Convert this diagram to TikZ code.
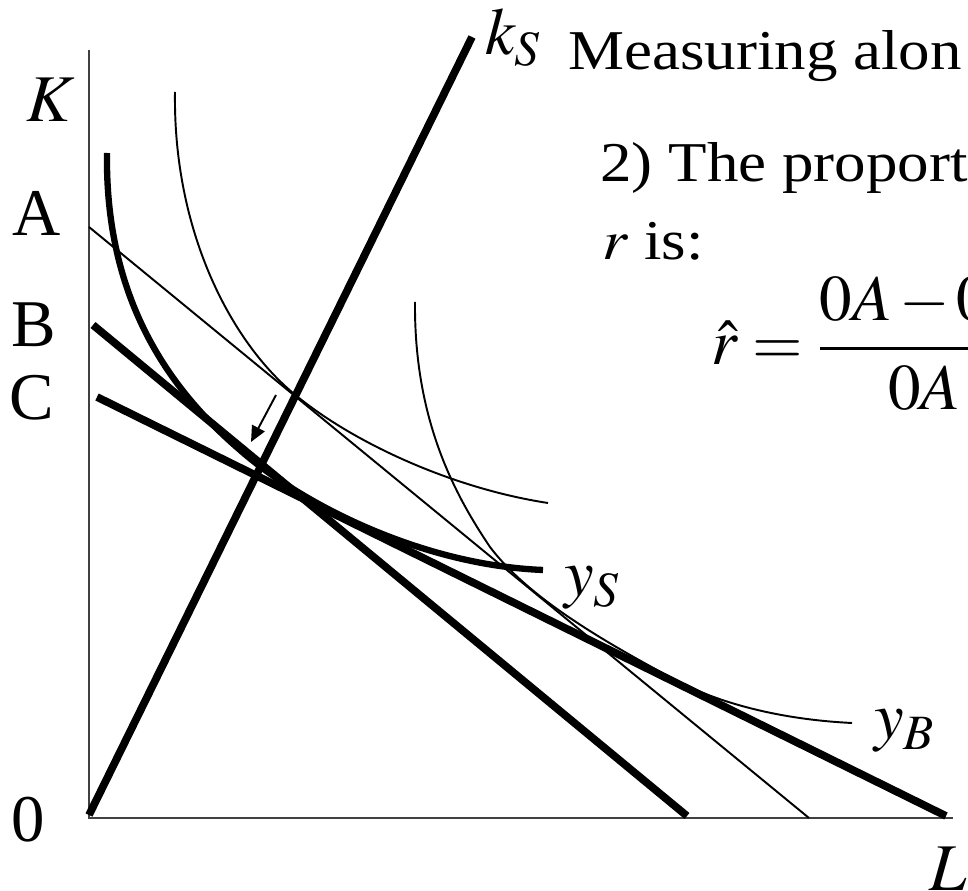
\documentclass[tikz,border=0pt]{standalone}
\usepackage{mathptmx}
\usepackage{fontspec}
\setmainfont{Liberation Serif}
\usetikzlibrary{arrows.meta, positioning}

\newcommand{\wide}[1]{\scalebox{1.12}[1]{#1}}

\tikzset{
  thickline/.style={line width=4.4pt},
  isothick/.style={line width=3.6pt},
  thinline/.style={line width=1.1pt},
  axisline/.style={line width=0.8pt, black!75},
  lbl/.style={font=\fontsize{38}{42}\selectfont, inner sep=0pt},
  txt/.style={font=\fontsize{32}{38}\selectfont, inner sep=0pt, anchor=base west},
}

\begin{document}
\begin{tikzpicture}[x=0.02cm,y=-0.02cm]
  \useasboundingbox (0,0) rectangle (968,891);
  \clip (0,0) rectangle (968,891);
  % axes
  \coordinate (O) at (89,818);
  \coordinate (Ktop) at (89,50);
  \coordinate (Lend) at (953,818);
  \draw[axisline] (Ktop) -- (O) -- (Lend);
  \node[lbl] (klab) at (51,100) {$K$};
  \node[lbl] (zero) at (28,820) {0};
  \node[lbl, anchor=base west] (llab) at (929,891) {$L$};
  % intercepts on the K axis
  \foreach \name/\x/\y in {A/37/213, B/34/325, C/32/398}
    \node[lbl] (lab\name) at (\x,\y) {\name};
  % isocost lines
  \coordinate (A0) at (89,227);  \coordinate (A1) at (809,818);
  \coordinate (B0) at (93,325);  \coordinate (B1) at (687,816);
  \coordinate (C0) at (97,397);  \coordinate (C1) at (946,816);
  \draw[thinline] (A0) -- (A1);
  \draw[thickline] (B0) -- (B1);
  \draw[thickline] (C0) -- (C1);
  % the k_S ray
  \coordinate (R0) at (89,815); \coordinate (R1) at (472,37);
  \draw[thickline] (R0) -- (R1);
  \node[lbl, anchor=base west] (kS) at (485,55) {$k_S$};
  % isoquants
  \draw[isothick] (107,153) .. controls (105,300) and (170,390) .. (240,450)
    .. controls (300,503) and (420,565) .. (543,570);
  \draw[thinline] (175,92) .. controls (173,230) and (230,340) .. (293,393)
    .. controls (350,441) and (450,488) .. (548,503);
  \draw[thinline] (415,302) .. controls (414,420) and (455,495) .. (490,547)
    .. controls (530,600) and (610,645) .. (683,684)
    .. controls (730,707) and (790,720) .. (852,723);
  \node[lbl, anchor=base west] (yS) at (564,596) {$y_S$};
  \node[lbl, anchor=base west] (yB) at (874,739) {$y_B$};
  % arrow to the tangency point
  \coordinate (arrS) at (276,395); \coordinate (arrE) at (251,442);
  \draw[thinline, -{Triangle[length=9pt,width=8pt]}] (arrS) -- (arrE);
  % text on the right
  \node[txt] (meas) at (568,70) {\wide{Measuring alon}};
  \node[txt] (prop) at (600,182) {\wide{2) The proport}};
  \node[txt] (ris) at (602,260) {\wide{$r$ is:}};
  \node[txt, font=\fontsize{37}{42}\selectfont] (rhat) at (711,365)
    {$\displaystyle\hat{r}=\frac{0A\,{-}\,0\phantom{B}}{0A}$};
\end{tikzpicture}
\end{document}
